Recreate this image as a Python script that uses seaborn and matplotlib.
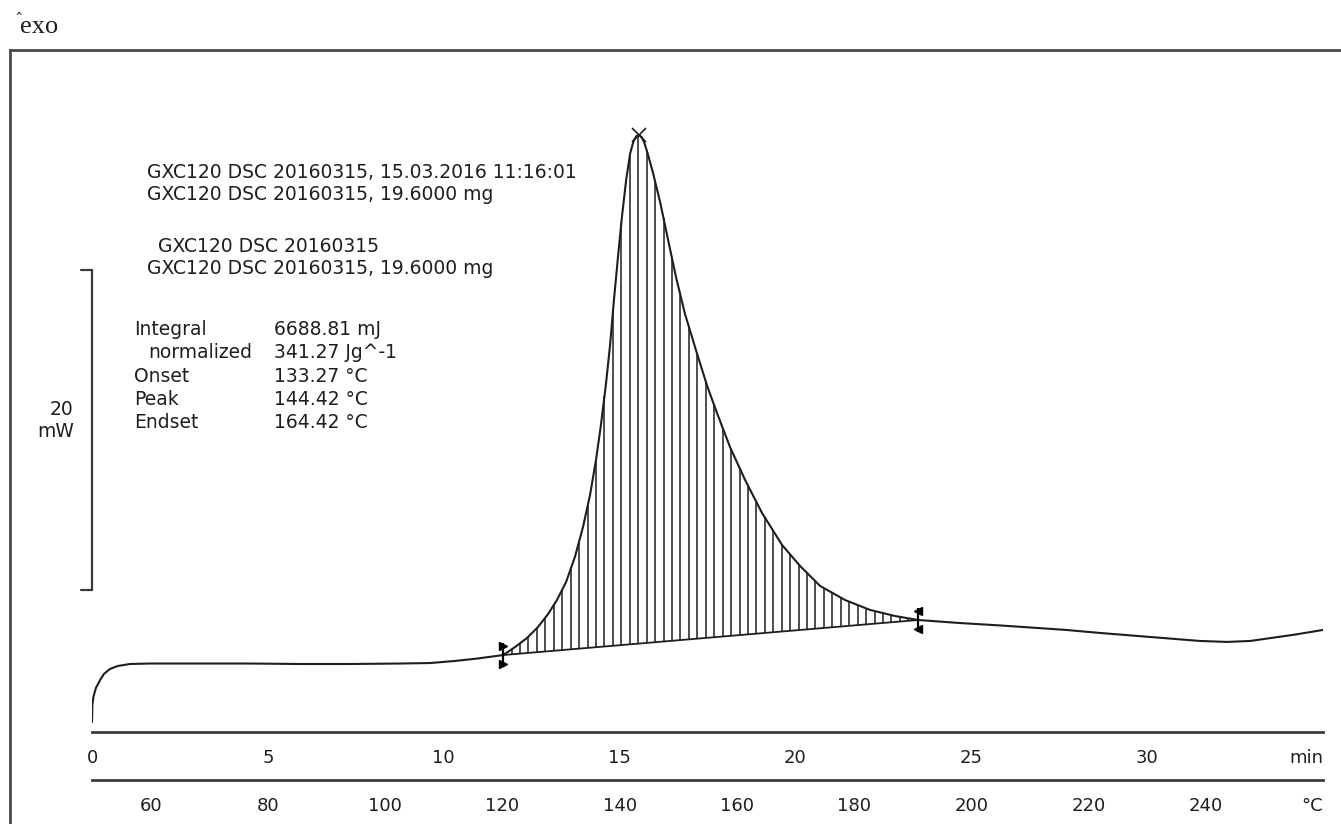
import numpy as np
import seaborn as sns
import matplotlib.pyplot as plt

# DSC trace: time in min, heat flow in mW (exo up)
time_min = [0.0, 0.01, 0.04, 0.11, 0.23, 0.34, 0.51, 0.74, 1.08, 1.65, 3.07, 4.49,
            5.91, 7.34, 8.76, 9.61, 10.32, 10.95, 11.69, 12.03, 12.37, 12.68, 12.97,
            13.22, 13.48, 13.73, 13.96, 14.16, 14.33, 14.47, 14.61, 14.73, 14.84,
            14.96, 15.07, 15.19, 15.30, 15.40, 15.48, 15.55, 15.62, 15.70, 15.80,
            15.95, 16.15, 16.38, 16.61, 16.86, 17.17, 17.49, 17.77, 18.14, 18.57,
            19.05, 19.62, 20.13, 20.70, 21.41, 22.12, 22.83, 23.49, 24.68, 25.82,
            27.69, 28.66, 30.08, 31.50, 32.27, 32.93, 33.41, 34.21, 35.0]
heat_flow = [-2.63, -1.56, -1.06, -0.50, 0.0, 0.38, 0.69, 0.88, 1.0, 1.03, 1.03, 1.03,
             1.0, 1.0, 1.03, 1.06, 1.19, 1.34, 1.56, 2.06, 2.63, 3.31, 4.13,
             5.0, 6.13, 7.69, 9.56, 11.56, 13.75, 15.94, 18.44, 20.94, 23.75,
             26.56, 29.0, 31.3, 32.9, 33.7, 34.0, 34.06, 33.95, 33.6, 32.9,
             31.7, 29.9, 27.5, 25.13, 22.88, 20.63, 18.38, 16.69, 14.56, 12.5,
             10.44, 8.44, 7.13, 5.88, 5.0, 4.38, 4.0, 3.75, 3.56, 3.41,
             3.13, 2.94, 2.69, 2.44, 2.38, 2.44, 2.59, 2.84, 3.13]

# evaluation limits and peak (min)
t_left = 11.69
t_right = 23.49
t_peak = 15.55
scale_mw = 20
scale_low = 5.6

header_lines = ["GXC120 DSC 20160315, 15.03.2016 11:16:01",
                "GXC120 DSC 20160315, 19.6000 mg"]
curve_lines = ["GXC120 DSC 20160315",
               "GXC120 DSC 20160315, 19.6000 mg"]
result_labels = ["Integral", "normalized", "Onset", "Peak", "Endset"]
result_values = ["6688.81 mJ", "341.27 Jg^-1", "133.27 °C", "144.42 °C", "164.42 °C"]

min_major = [0, 5, 10, 15, 20, 25, 30, 35]
min_labels = ["0", "5", "10", "15", "20", "25", "30", "min"]
temp_major = [60, 80, 100, 120, 140, 160, 180, 200, 220, 240, 260]
temp_labels = ["60", "80", "100", "120", "140", "160", "180", "200", "220", "240", "°C"]
temp_minor = [50, 70, 90, 110, 130, 150, 170, 190, 210, 230, 250]

sns.set_style("white")
plt.rcParams["font.family"] = ["DejaVu Sans"]

W, H = 1341, 824
fig = plt.figure(figsize=(W / 100, H / 100), dpi=100)


def fx(px):
    return px / W


def fy(py):
    return 1 - py / H


ink = "#1e1e1e"
axis_col = "#3a3a3a"
fs = 13.5

# outer frame
frame = fig.add_axes([fx(10), -0.1, 1.1, fy(50) + 0.1])
frame.set_xticks([])
frame.set_yticks([])
frame.patch.set_alpha(0)
for s in frame.spines.values():
    s.set_color("#4a4a4a")
    s.set_linewidth(2.0)

# main signal axes
x0, x1 = 92, 1323
ax = fig.add_axes([fx(x0), fy(724), (x1 - x0) / W, 624 / H])
ax.patch.set_alpha(0)
sns.lineplot(x=time_min, y=heat_flow, ax=ax, color=ink, linewidth=1.5,
             estimator=None, sort=False)
ax.set_xlim(0, 35)
ax.set_ylim(-2.75, 36.25)
ax.set_axis_off()

# integration baseline and hatching
hf_left = np.interp(t_left, time_min, heat_flow)
hf_right = np.interp(t_right, time_min, heat_flow)
ax.plot([t_left, t_right], [hf_left, hf_right], color=ink, lw=1.3)
t_h = np.arange(t_left + 0.24, t_right - 0.05, 0.24)
top = np.interp(t_h, time_min, heat_flow)
base = np.interp(t_h, [t_left, t_right], [hf_left, hf_right])
ax.vlines(t_h, base, top, color=ink, lw=1.1)

# limit markers
for t, hf, m in [(t_left, hf_left, ">"), (t_right, hf_right, "<")]:
    ax.vlines(t, hf - 0.75, hf + 0.75, color="black", lw=1.6)
    ax.plot([t, t], [hf + 0.55, hf - 0.55], ls="none", marker=m, ms=6,
            color="black")

# peak mark
ax.plot(t_peak, np.interp(t_peak, time_min, heat_flow), marker="x", ms=10,
        mew=1.2, color=ink)

# 20 mW scale bar
scale_high = scale_low + scale_mw
ax.plot([0, 0], [scale_low, scale_high], color=axis_col, lw=1.6, clip_on=False)
ax.plot([-0.31, 0], [scale_high, scale_high], color=axis_col, lw=1.6, clip_on=False)
ax.plot([-0.31, 0], [scale_low, scale_low], color=axis_col, lw=1.6, clip_on=False)
ax.text(-0.52, (scale_low + scale_high) / 2 + 0.6, f"{scale_mw}\nmW", ha="right",
        va="center", multialignment="right", fontsize=fs, linespacing=1.2,
        color=ink)


def bottom_axis(py, lo, hi, major, labels, minor):
    a = fig.add_axes([fx(x0), fy(py), (x1 - x0) / W, 0.0001])
    a.set_xlim(lo, hi)
    a.set_yticks([])
    for side in ["top", "left", "right"]:
        a.spines[side].set_visible(False)
    a.spines["bottom"].set_color(axis_col)
    a.spines["bottom"].set_linewidth(2.0)
    a.set_xticks(major)
    a.set_xticklabels(labels)
    a.set_xticks(minor, minor=True)
    a.tick_params(axis="x", which="major", direction="out", length=7.5, width=1.6,
                  color=axis_col, labelsize=13, labelcolor=ink, pad=5)
    a.tick_params(axis="x", which="minor", direction="out", length=5.5, width=1.4,
                  color=axis_col)
    a.get_xticklabels()[-1].set_ha("right")
    a.patch.set_alpha(0)
    return a


bottom_axis(732, 0, 35, min_major, min_labels, np.arange(0, 36, 1))
bottom_axis(780, 50, 260, temp_major, temp_labels, temp_minor)

# text blocks
for i, line in enumerate(header_lines):
    fig.text(fx(147), fy(172 + 22 * i), line, va="center", fontsize=fs, color=ink)
fig.text(fx(158), fy(246), curve_lines[0], va="center", fontsize=fs, color=ink)
fig.text(fx(147), fy(268), curve_lines[1], va="center", fontsize=fs, color=ink)
for i, (lab, val) in enumerate(zip(result_labels, result_values)):
    y = 330 + 23 * i
    fig.text(fx(148 if lab == "normalized" else 134), fy(y), lab, va="center",
             fontsize=fs, color=ink)
    fig.text(fx(274), fy(y), val, va="center", fontsize=fs, color=ink)

fig.text(fx(20), fy(27), "exo", va="center", fontsize=19, color=ink,
         family=["Liberation Serif", "DejaVu Serif"])
fig.text(fx(14), fy(25), "ˆ", va="baseline", fontsize=12, color=ink,
         family=["DejaVu Serif"])

fig.savefig("out.png", dpi=100)
